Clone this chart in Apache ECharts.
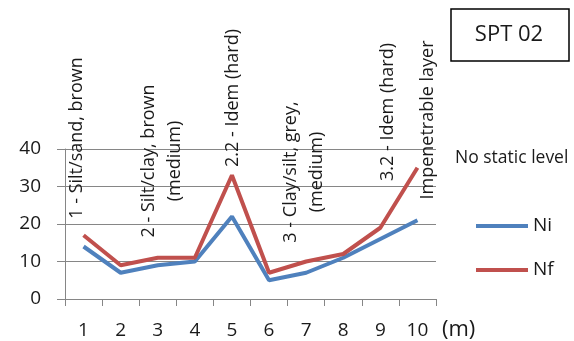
<!DOCTYPE html>
<html>
<head>
<meta charset="utf-8">
<script src="https://cdn.jsdelivr.net/npm/echarts@6/dist/echarts.min.js"></script>
<style>
  html, body { margin: 0; padding: 0; background: #fff; }
  #main { width: 574px; height: 341px; }
</style>
</head>
<body>
<div id="main"></div>
<script>
var depths = ['1', '2', '3', '4', '5', '6', '7', '8', '9', '10'];
var ni = [14, 7, 9, 10, 22, 5, 7, 11, 16, 21];
var nf = [17, 9, 11, 11, 33, 7, 10, 12, 19, 35];
var yMin = 0, yMax = 40, yStep = 10;
var layerLabels = [
  '1 - Silt/sand, brown',
  '2 - Silt/clay, brown\n(medium)',
  '2.2 - Idem (hard)',
  '3 - Clay/silt, grey,\n(medium)',
  '3.2 - Idem (hard)',
  'Impenetrable layer'
];
// centre of each rotated label, in pixels
var labelAt = [[77, 138], [162, 161], [233, 98], [304, 172], [388, 112], [428, 120]];

var font = 'Open Sans';
var textColor = '#1a1a1a';
var gridColor = '#868686';

var chartDom = document.getElementById('main');
var myChart = echarts.init(chartDom, null, { renderer: 'canvas' });

var graphics = layerLabels.map(function (t, i) {
  return {
    type: 'text',
    x: labelAt[i][0],
    y: labelAt[i][1],
    rotation: Math.PI / 2,
    z: 10,
    style: {
      text: t,
      fontFamily: font,
      fontSize: 18,
      lineHeight: 26,
      fill: textColor,
      align: 'center',
      verticalAlign: 'middle'
    }
  };
});

graphics.push({
  type: 'rect',
  shape: { x: 451, y: 9, width: 118, height: 52 },
  style: { fill: '#fff', stroke: '#000', lineWidth: 1.5 }
});
graphics.push({
  type: 'text',
  x: 509, y: 35,
  style: {
    text: 'SPT 02', fontFamily: font, fontSize: 22, fill: textColor,
    align: 'center', verticalAlign: 'middle'
  }
});
graphics.push({
  type: 'text',
  x: 455, y: 158,
  style: {
    text: 'No static level', fontFamily: font, fontSize: 17.5, fill: textColor,
    align: 'left', verticalAlign: 'middle'
  }
});

var option = {
  animation: false,
  grid: { left: 65, right: 138, top: 149, bottom: 42, containLabel: false },
  legend: {
    data: ['Ni', 'Nf'],
    orient: 'vertical',
    left: 471,
    top: 211,
    icon: 'rect',
    itemWidth: 52,
    itemHeight: 4,
    itemGap: 24,
    textStyle: { fontFamily: font, fontSize: 19, color: textColor, lineHeight: 20 }
  },
  xAxis: {
    type: 'category',
    data: depths,
    boundaryGap: true,
    name: '(m)',
    nameLocation: 'end',
    nameGap: 6,
    nameTextStyle: {
      fontFamily: font, fontSize: 22, color: textColor,
      align: 'left', verticalAlign: 'top', padding: [20, 0, 0, 0]
    },
    axisLine: { lineStyle: { color: gridColor, width: 1 } },
    axisTick: { show: true, length: 7, lineStyle: { color: gridColor } },
    axisLabel: { fontFamily: font, fontSize: 19, color: textColor, margin: 22 }
  },
  yAxis: {
    type: 'value',
    min: yMin,
    max: yMax,
    interval: yStep,
    axisLine: { show: true, lineStyle: { color: gridColor, width: 1 } },
    axisTick: { show: true, length: 8, lineStyle: { color: gridColor } },
    axisLabel: { fontFamily: font, fontSize: 19, color: textColor, margin: 24 },
    splitLine: { lineStyle: { color: gridColor, width: 1 } }
  },
  series: [
    {
      name: 'Ni',
      type: 'line',
      data: ni,
      symbol: 'none',
      color: '#4F81BD',
      lineStyle: { width: 4, color: '#4F81BD' }
    },
    {
      name: 'Nf',
      type: 'line',
      data: nf,
      symbol: 'none',
      color: '#C0504D',
      lineStyle: { width: 4, color: '#C0504D' }
    }
  ],
  graphic: graphics
};

option && myChart.setOption(option);
</script>
</body>
</html>
